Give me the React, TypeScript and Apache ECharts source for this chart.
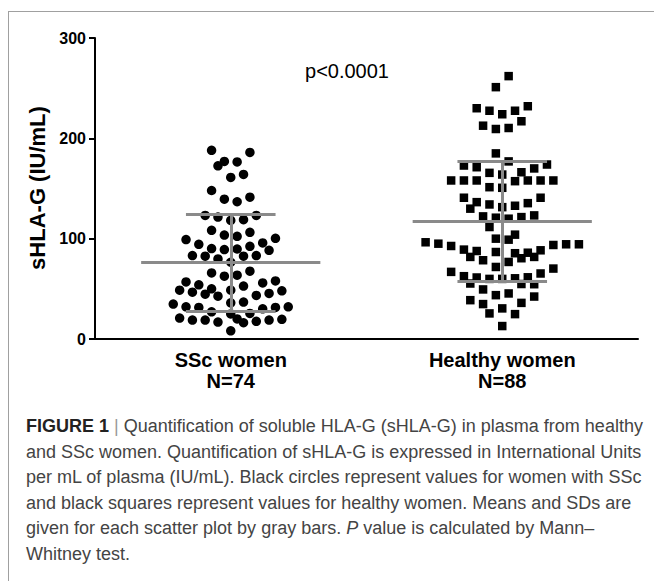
import React, { useEffect, useRef } from "react";
import * as echarts from "echarts";

// ---- data ----
const categories = ["SSc women\nN=74", "Healthy women\nN=88"];
const yTickMax = 300;
const yTickInterval = 100;

// beeswarm column index (horizontal position within the swarm) and value (IU/mL)
const sscCols = [
  -3, 3, -1, -2, 1, 0, 2, -3, -1, 1, 3, -4, -2, 0, 2, 4, -3, -1, 1, 3,
  -7, -5, -3, -1, 1, 3, 5, 7, -6, -4, -2, 0, 2, 4, 6, -3, -1, 1, 3, -7,
  -5, -8, -6, -4, -3, -2, 0, 2, 5, 7, 4, 6, 8, -9, -7, -5, -3, 0, 2, 5,
  7, 9, -8, -6, -4, -2, 0, 1, 2, 3, 4, 6, 8, 0,
];
const sscValues = [
  188, 186, 177, 172.6, 176.5, 161, 164, 148, 139.4, 136.8, 141.4, 123.2, 121.5, 118.2, 118.9, 123.2, 108.3, 103.6, 102.3, 106.3,
  99.1, 94.4, 90.1, 89.1, 89.7, 92.4, 95.7, 100.3, 83.2, 82.5, 79.8, 76.5, 82.5, 83.2, 88.4, 65.9, 62.6, 63.6, 67.6, 56.9,
  54, 48.7, 46.7, 44.7, 50, 42.7, 48.7, 52.7, 55.9, 57.9, 43.4, 45.4, 48, 34.8, 32.1, 31.5, 27.1, 36.1, 36.8, 30.1,
  31.5, 32.1, 20.9, 18.9, 18.9, 16.9, 25, 20, 16.2, 25.5, 17.6, 18.9, 19.6, 8.2,
];

const healthyCols = [
  1, -1, -4, -2, 0, 2, 4, -3, -1, 1, 3, -1, 1,
  -6, -4, 5, 7, -2, 0, 3, -8, -6, -4, 2, 4, 6, 8, -2, 0,
  -6, -4, 2, 4, 6, -5, -2, 0, -3, -1, 1, 3, 5, -2, -1, 1, 2,
  -12, -10, -8, -6, -4, -5, -3, -1, 1, 2, 3, 4, 5, 6, 8, 10, 12,
  -1, -8, -6, -4, -2, 0, 2, 4, 6, 8, -5, 3, 5,
  -3, -1, 1, -5, -3, 3, 5, -2, 2, 0, 0,
];
const healthyValues = [
  262, 251, 230, 227.5, 224, 227.5, 232, 212.6, 209.3, 210.3, 217, 185, 177,
  172.9, 171.2, 170, 173.9, 165.6, 163.9, 166.2, 158, 158, 158, 157.3, 158, 158, 158, 151.3, 150.7,
  140.8, 136.4, 132.8, 135.4, 140.8, 129.9, 134.1, 131.4, 122.2, 120.9, 119.9, 121.5, 123.2, 111.6, 100, 99, 104,
  96.4, 95, 92.7, 89.1, 87.7, 81.8, 78.5, 86.7, 76.8, 85.5, 80.5, 86, 81.8, 88.4, 93.7, 94.4, 94.4,
  71.8, 66.9, 62.6, 61.3, 59.9, 59.9, 60.5, 61.5, 65.3, 70.2, 55.3, 54.8, 54.6,
  49.4, 43.7, 45.4, 38.7, 34.8, 36, 42.3, 25.5, 24.8, 30.5, 12.9,
];

// mean and SD drawn as gray bars
const groupMeans = [76.2, 117.2];
const groupSDs = [48.3, 60];

const pValueText = "p<0.0001";
const yAxisTitle = "sHLA-G (IU/mL)";

const captionLines = [
  "{b|FIGURE 1} {bar||} Quantification of soluble HLA-G (sHLA-G) in plasma from healthy",
  "and SSc women. Quantification of sHLA-G is expressed in International Units",
  "per mL of plasma (IU/mL). Black circles represent values for women with SSc",
  "and black squares represent values for healthy women. Means and SDs are",
  "given for each scatter plot by gray bars. {i|P} value is calculated by Mann–",
  "Whitney test.",
];

// ---- layout constants ----
const FONT = "'Liberation Sans', Arial, Helvetica, sans-serif";
const COL_STEP = 6.4 / 272; // one swarm column in category units
const MEAN_HALF = 0.33;
const SD_HALF = 0.165;
const CAP_SIZE = 18;
const CAP_TOP = 426;
const CAP_STEP = 25.5;

export default function App() {
  const ref = useRef<HTMLDivElement>(null);

  useEffect(() => {
    if (!ref.current) return;
    const chart = echarts.init(ref.current, undefined, { renderer: "svg" });

    const sscData = sscValues.map((v, i) => [0 + sscCols[i] * COL_STEP, v]);
    const healthyData = healthyValues.map((v, i) => [1 + healthyCols[i] * COL_STEP, v]);

    const barLines: any[] = [];
    groupMeans.forEach((m, g) => {
      const sd = groupSDs[g];
      barLines.push({ coords: [[g - MEAN_HALF, m], [g + MEAN_HALF, m]] });
      barLines.push({ coords: [[g - SD_HALF, m + sd], [g + SD_HALF, m + sd]] });
      barLines.push({ coords: [[g - SD_HALF, m - sd], [g + SD_HALF, m - sd]] });
      barLines.push({ coords: [[g, m - sd], [g, m + sd]] });
    });

    const captionGraphics = captionLines.map((line, i) => ({
      type: "text",
      x: 26,
      y: CAP_TOP + i * CAP_STEP,
      silent: true,
      style: {
        text: line,
        fill: "#444",
        font: `${CAP_SIZE}px ${FONT}`,
        fontSize: CAP_SIZE,
        fontFamily: FONT,
        align: "left",
        verticalAlign: "middle",
        textAlign: "left",
        textVerticalAlign: "middle",
        rich: {
          b: { fontWeight: "bold", fontSize: CAP_SIZE, fontFamily: FONT, fill: "#222" },
          bar: { fontSize: CAP_SIZE, fontFamily: FONT, fill: "#999" },
          i: { fontStyle: "italic", fontSize: CAP_SIZE, fontFamily: FONT, fill: "#444" },
        },
      },
    }));

    chart.setOption({
      animation: false,
      backgroundColor: "#fff",
      grid: { left: 95, top: 38, width: 543, height: 301, containLabel: false },
      xAxis: [
        {
          type: "category",
          data: categories,
          axisLine: { onZero: false, lineStyle: { color: "#000", width: 2 } },
          axisTick: { alignWithLabel: true, length: 6, lineStyle: { color: "#000", width: 2 } },
          axisLabel: {
            color: "#000",
            fontWeight: "bold",
            fontSize: 20,
            lineHeight: 21,
            margin: 10,
            fontFamily: FONT,
          },
          splitLine: { show: false },
        },
        { type: "value", min: -0.5, max: 1.5, show: false },
      ],
      yAxis: {
        type: "value",
        min: 0,
        max: yTickMax,
        interval: yTickInterval,
        axisLine: { show: true, onZero: false, lineStyle: { color: "#000", width: 2 } },
        axisTick: { show: true, length: 6, lineStyle: { color: "#000", width: 2 } },
        axisLabel: { color: "#000", fontWeight: "bold", fontSize: 16, margin: 9, fontFamily: FONT },
        splitLine: { show: false },
      },
      series: [
        {
          name: "SSc women",
          type: "scatter",
          xAxisIndex: 1,
          symbol: "circle",
          symbolSize: 9.5,
          itemStyle: { color: "#000", opacity: 1 },
          data: sscData,
          z: 2,
        },
        {
          name: "Healthy women",
          type: "scatter",
          xAxisIndex: 1,
          symbol: "rect",
          symbolSize: 8.5,
          itemStyle: { color: "#000", opacity: 1 },
          data: healthyData,
          z: 2,
        },
        {
          name: "Mean ± SD",
          type: "lines",
          coordinateSystem: "cartesian2d",
          xAxisIndex: 1,
          polyline: false,
          silent: true,
          lineStyle: { color: "#8a8a8a", width: 3, opacity: 1 },
          data: barLines,
          z: 5,
        },
      ],
      graphic: [
        {
          type: "line",
          silent: true,
          shape: { x1: 8.5, y1: 11, x2: 8.5, y2: 581 },
          style: { stroke: "#a0a0a0", lineWidth: 1 },
        },
        {
          type: "line",
          silent: true,
          shape: { x1: 8, y1: 11.5, x2: 654, y2: 11.5 },
          style: { stroke: "#a0a0a0", lineWidth: 1 },
        },
        {
          type: "text",
          x: 347,
          y: 71,
          silent: true,
          style: {
            text: pValueText,
            fill: "#000",
            font: `20px ${FONT}`,
            align: "center",
            verticalAlign: "middle",
            textAlign: "center",
            textVerticalAlign: "middle",
          },
        },
        {
          type: "text",
          x: 37,
          y: 188,
          rotation: Math.PI / 2,
          silent: true,
          style: {
            text: yAxisTitle,
            fill: "#000",
            font: `bold 22px ${FONT}`,
            align: "center",
            verticalAlign: "middle",
            textAlign: "center",
            textVerticalAlign: "middle",
          },
        },
        ...captionGraphics,
      ],
    });

    return () => chart.dispose();
  }, []);

  return (
    <div
      ref={ref}
      style={{ position: "absolute", left: 0, top: 0, width: 654, height: 581, background: "#fff" }}
    />
  );
}
